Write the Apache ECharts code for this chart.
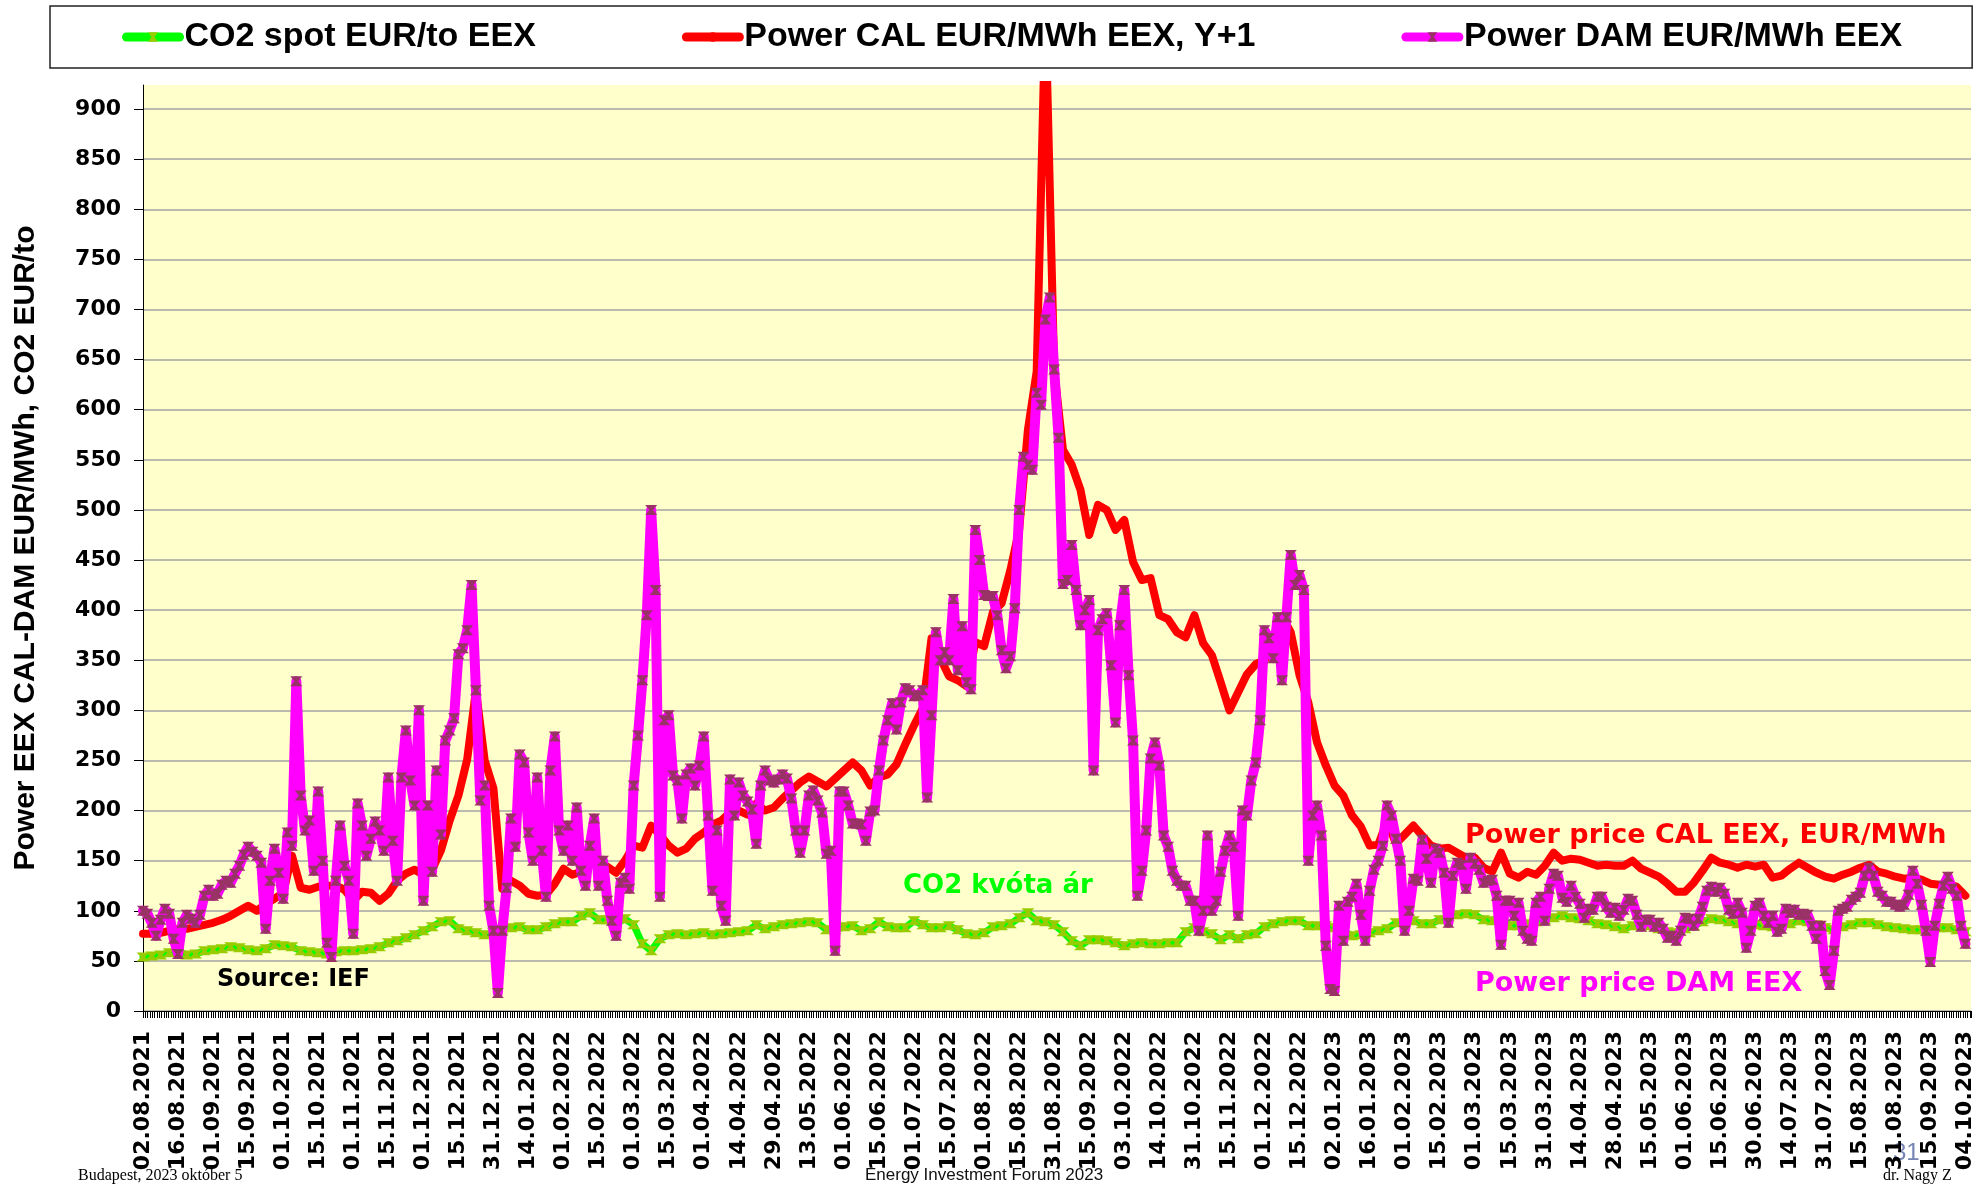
<!DOCTYPE html>
<html>
<head>
<meta charset="utf-8">
<title>Power EEX CAL-DAM, CO2</title>
<script src="https://cdn.jsdelivr.net/npm/echarts@6/dist/echarts.min.js"></script>
<style>
  html, body { margin: 0; padding: 0; background: #fff; }
  #chart { width: 1977px; height: 1185px; }
</style>
</head>
<body>
<div id="chart"></div>
<script>
// tick labels of the category-like x axis (one every ~2 weeks)
const tickLabels = [
  '02.08.2021', '16.08.2021', '01.09.2021', '15.09.2021', '01.10.2021', '15.10.2021',
  '01.11.2021', '15.11.2021', '01.12.2021', '15.12.2021', '31.12.2021', '14.01.2022',
  '01.02.2022', '15.02.2022', '01.03.2022', '15.03.2022', '01.04.2022', '14.04.2022',
  '29.04.2022', '13.05.2022', '01.06.2022', '15.06.2022', '01.07.2022', '15.07.2022',
  '01.08.2022', '15.08.2022', '31.08.2022', '15.09.2022', '03.10.2022', '14.10.2022',
  '31.10.2022', '15.11.2022', '01.12.2022', '15.12.2022', '02.01.2023', '16.01.2023',
  '01.02.2023', '15.02.2023', '01.03.2023', '15.03.2023', '31.03.2023', '14.04.2023',
  '28.04.2023', '15.05.2023', '01.06.2023', '15.06.2023', '30.06.2023', '14.07.2023',
  '31.07.2023', '15.08.2023', '31.08.2023', '15.09.2023', '04.10.2023'
];

// samples per label step for each series
const damPerLabel = 8;
const calPerLabel = 4;
const co2PerLabel = 4;

// Power DAM EUR/MWh EEX
const damValues = [
  100, 97, 88, 75, 91, 102, 97, 72, 57, 88,
  96, 92, 88, 96, 115, 121, 115, 117, 126, 130,
  128, 137, 145, 156, 164, 159, 155, 148, 82, 130,
  162, 138, 112, 178, 165, 329, 215, 180, 190, 140,
  219, 150, 68, 54, 130, 185, 145, 130, 77, 207,
  185, 155, 172, 189, 180, 160, 233, 170, 130, 233,
  280, 230, 205, 300, 110, 205, 139, 240, 176, 270,
  280, 292, 356, 362, 380, 425, 320, 210, 225, 105,
  80, 18, 80, 123, 192, 164, 256, 248, 178, 150,
  233, 160, 114, 240, 274, 180, 160, 185, 150, 203,
  140, 125, 165, 192, 125, 150, 110, 90, 75, 128,
  133, 122, 225, 275, 330, 395, 500, 420, 114, 290,
  295, 235, 230, 192, 236, 242, 225, 245, 274, 195,
  120, 180, 105, 90, 231, 195, 228, 215, 209, 201,
  167, 225, 240, 230, 228, 231, 236, 232, 212, 180,
  158, 180, 215, 220, 210, 198, 157, 160, 60, 219,
  219, 205, 187, 187, 186, 170, 199, 200, 240, 270,
  290, 307, 281, 308, 322, 320, 314, 315, 320, 213,
  295, 378, 350, 358, 350, 411, 340, 384, 328, 321,
  480, 450, 415, 414, 414, 395, 360, 342, 354, 402,
  500, 553, 545, 540, 617, 605, 690, 712, 640, 572,
  426, 430, 465, 420, 385, 400, 410, 240, 380, 391,
  397, 345, 288, 385, 420, 335, 270, 115, 140, 180,
  252, 268, 245, 175, 164, 140, 130, 125, 125, 110,
  110, 80, 100, 175, 100, 110, 139, 160, 175, 164,
  95, 200, 195, 230, 248, 290, 380, 372, 352, 393,
  330, 393, 455, 425, 435, 420, 150, 195, 205, 175,
  65, 22, 20, 105, 70, 109, 114, 127, 96, 70,
  120, 141, 150, 165, 205, 195, 172, 150, 80, 100,
  132, 130, 171, 152, 128, 162, 158, 138, 88, 135,
  148, 146, 122, 153, 147, 141, 128, 130, 131, 115,
  66, 110, 110, 95, 108, 80, 72, 70, 108, 114,
  90, 122, 137, 135, 113, 109, 125, 114, 107, 93,
  102, 101, 114, 114, 104, 98, 103, 95, 101, 112,
  110, 96, 84, 91, 91, 84, 88, 82, 73, 75,
  70, 80, 93, 92, 85, 92, 104, 120, 124, 119,
  123, 117, 101, 97, 108, 98, 63, 80, 105, 108,
  95, 88, 95, 79, 82, 102, 98, 101, 96, 97,
  96, 85, 72, 85, 40, 26, 60, 100, 102, 104,
  111, 114, 118, 135, 143, 135, 119, 115, 109, 109,
  106, 104, 106, 116, 140, 127, 106, 80, 49, 85,
  107, 125, 134, 122, 115, 85, 67
];

// Power CAL EUR/MWh EEX, Y+1
const calValues = [
  77, 77, 78, 80, 82, 82, 84, 86, 88, 91,
  95, 100, 105, 100, 107, 112, 118, 155, 123, 121,
  124, 125, 125, 121, 110, 119, 118, 110, 117, 130,
  137, 141, 136, 141, 160, 190, 215, 251, 320, 250,
  222, 122, 130, 125, 117, 115, 116, 127, 142, 136,
  139, 146, 148, 144, 138, 150, 165, 163, 185, 176,
  165, 158, 162, 172, 178, 186, 190, 198, 200, 196,
  207, 200, 203, 212, 220, 228, 234, 229, 224, 232,
  240, 248, 240, 225, 233, 236, 246, 266, 285, 302,
  372, 352, 334, 330, 324, 368, 364, 398, 407, 440,
  480, 580, 638, 1000, 640, 560, 545, 520, 475, 505,
  500, 480, 490, 448, 430, 432, 395, 391, 378, 373,
  395, 367, 355, 328, 300, 318, 336, 346, 350, 362,
  394, 378, 335, 308, 268, 245, 225, 215, 195, 184,
  165, 166, 190, 167, 176, 185, 175, 165, 162, 163,
  158, 153, 153, 143, 139, 158, 137, 133, 139, 136,
  145, 158, 150, 152, 151, 148, 145, 146, 145, 145,
  150, 142, 138, 134, 127, 119, 119, 128, 140, 153,
  148, 146, 143, 146, 144, 146, 133, 135, 142, 148,
  143, 138, 134, 132, 136, 139, 143, 146, 139, 137,
  134, 132, 133, 131, 127, 126, 126, 124, 115
];

// CO2 spot EUR/to EEX
const co2Values = [
  54, 55, 56, 58, 59, 56, 57, 60, 61, 62,
  64, 63, 61, 60, 62, 66, 65, 64, 60, 59,
  58, 57, 59, 60, 60, 61, 62, 64, 68, 70,
  73, 76, 80, 84, 89, 90, 82, 80, 78, 76,
  78, 81, 83, 84, 81, 81, 84, 87, 89, 89,
  95, 98, 91, 91, 87, 92, 86, 67, 60, 72,
  76, 77, 76, 77, 78, 76, 77, 78, 79, 80,
  86, 82, 84, 86, 87, 88, 89, 88, 81, 81,
  84, 85, 80, 82, 89, 84, 83, 83, 90, 86,
  83, 83, 85, 81, 77, 76, 78, 84, 85, 87,
  93, 98, 90, 89, 86, 79, 70, 65, 71, 71,
  70, 68, 65, 67, 68, 67, 67, 68, 68, 79,
  83, 79, 77, 71, 76, 72, 76, 77, 84, 87,
  89, 90, 90, 85, 85, 85, 83, 80, 75, 76,
  78, 80, 82, 88, 90, 90, 87, 87, 91, 94,
  96, 97, 96, 91, 90, 95, 85, 85, 87, 89,
  91, 93, 95, 93, 92, 90, 87, 86, 84, 82,
  85, 87, 85, 82, 79, 78, 82, 85, 89, 92,
  91, 89, 87, 86, 86, 85, 84, 85, 87, 90,
  89, 86, 83, 81, 84, 86, 88, 88, 86, 84,
  83, 82, 81, 81, 81, 83, 83, 81, 79
];

const yTicks = { min: 0, max: 924, step: 50 };

function toPoints(values, perLabel) {
  return values.map((v, i) => [i / perLabel, v]);
}

// excel-like "x" marker: two filled triangles meeting in the middle
const bowtie = 'path://M0,0L10,0L6.5,5L10,10L0,10L3.5,5Z';
const boldFont = 'DejaVu Sans';

const chart = echarts.init(document.getElementById('chart'));

const option = {
  animation: false,
  backgroundColor: '#ffffff',
  grid: {
    left: 143,
    right: 6,
    top: 85,
    bottom: 174,
    show: true,
    backgroundColor: '#FFFFCC',
    borderWidth: 0
  },
  legend: {
    left: 50,
    top: 6,
    padding: [11, 70, 11, 72],
    itemGap: 146,
    itemWidth: 53,
    itemHeight: 12,
    borderColor: '#222',
    borderWidth: 1.5,
    selectedMode: false,
    lineStyle: { width: 9 },
    textStyle: {
      fontFamily: 'Liberation Sans',
      fontWeight: 'bold',
      fontSize: 34,
      lineHeight: 40,
      color: '#000'
    },
    data: ['CO2 spot EUR/to EEX', 'Power CAL EUR/MWh EEX, Y+1', 'Power DAM EUR/MWh EEX']
  },
  xAxis: {
    type: 'value',
    min: 0,
    max: 52.16,
    interval: 1,
    axisLine: { show: true, onZero: false, lineStyle: { color: '#000', width: 1 } },
    axisTick: { show: true, length: 7, lineStyle: { color: '#000' } },
    minorTick: { show: true, splitNumber: 15, length: 7, lineStyle: { color: '#000' } },
    splitLine: { show: false },
    axisLabel: {
      rotate: 90,
      margin: 20,
      fontFamily: boldFont,
      fontWeight: 'bold',
      fontSize: 22,
      color: '#000',
      showMaxLabel: false,
      formatter: function (v) {
        const i = Math.round(v);
        return Math.abs(v - i) < 1e-6 ? (tickLabels[i] || '') : '';
      }
    }
  },
  yAxis: {
    type: 'value',
    min: yTicks.min,
    max: yTicks.max,
    interval: yTicks.step,
    name: 'Power EEX CAL-DAM EUR/MWh, CO2 EUR/to',
    nameLocation: 'middle',
    nameRotate: 90,
    nameGap: 102,
    nameTextStyle: {
      fontFamily: 'Liberation Sans',
      fontWeight: 'bold',
      fontSize: 30,
      color: '#000'
    },
    axisLine: { show: true, lineStyle: { color: '#000', width: 1 } },
    axisTick: { show: true, length: 9, lineStyle: { color: '#000' } },
    axisLabel: {
      margin: 22,
      fontFamily: boldFont,
      fontWeight: 'bold',
      fontSize: 22,
      color: '#000',
      showMaxLabel: false
    },
    splitLine: {
      show: true,
      showMaxLine: false,
      lineStyle: { color: '#a3a3a3', width: 1.5 }
    }
  },
  series: [
    {
      name: 'CO2 spot EUR/to EEX',
      type: 'line',
      data: toPoints(co2Values, co2PerLabel),
      symbol: bowtie,
      symbolSize: [13, 9],
      showSymbol: true,
      lineStyle: { color: '#00FF00', width: 7, cap: 'round', join: 'round' },
      itemStyle: { color: '#99CC00', borderWidth: 0, opacity: 1 },
      z: 2
    },
    {
      name: 'Power CAL EUR/MWh EEX, Y+1',
      type: 'line',
      data: toPoints(calValues, calPerLabel),
      symbol: 'none',
      lineStyle: { color: '#FF0000', width: 8, cap: 'round', join: 'round' },
      itemStyle: { color: '#FF0000' },
      z: 3
    },
    {
      name: 'Power DAM EUR/MWh EEX',
      type: 'line',
      data: toPoints(damValues, damPerLabel),
      symbol: bowtie,
      symbolSize: [12, 10],
      showSymbol: true,
      lineStyle: { color: '#FF00FF', width: 10, cap: 'round', join: 'round' },
      itemStyle: { color: '#993366', borderWidth: 0, opacity: 1 },
      z: 4
    }
  ],
  graphic: [
    {
      type: 'text', left: 217, top: 968, z: 10,
      style: { text: 'Source: IEF', fontFamily: boldFont, fontWeight: 'bold', fontSize: 24, fill: '#000' }
    },
    {
      type: 'text', left: 903, top: 873, z: 10,
      style: { text: 'CO2 kvóta ár', fontFamily: boldFont, fontWeight: 'bold', fontSize: 26, fill: '#00FF00' }
    },
    {
      type: 'text', left: 1465, top: 822, z: 10,
      style: { text: 'Power price CAL EEX, EUR/MWh', fontFamily: boldFont, fontWeight: 'bold', fontSize: 27, fill: '#FF0000' }
    },
    {
      type: 'text', left: 1475, top: 970, z: 10,
      style: { text: 'Power price DAM EEX', fontFamily: boldFont, fontWeight: 'bold', fontSize: 27, fill: '#FF00FF' }
    },
    {
      type: 'text', left: 78, top: 1168,
      style: { text: 'Budapest, 2023 október 5', fontFamily: 'Liberation Serif', fontSize: 16, fill: '#000' }
    },
    {
      type: 'text', left: 865, top: 1167,
      style: { text: 'Energy Investment Forum 2023', fontFamily: 'Liberation Sans Narrow, Liberation Sans', fontSize: 17, fill: '#111' }
    },
    {
      type: 'text', left: 1883, top: 1168,
      style: { text: 'dr. Nagy Z', fontFamily: 'Liberation Serif', fontSize: 16, fill: '#000' }
    },
    {
      type: 'text', left: 1893, top: 1141,
      style: { text: '31', fontFamily: 'Liberation Sans', fontSize: 24, fill: '#7584b4' }
    }
  ]
};

chart.setOption(option);
</script>
</body>
</html>
